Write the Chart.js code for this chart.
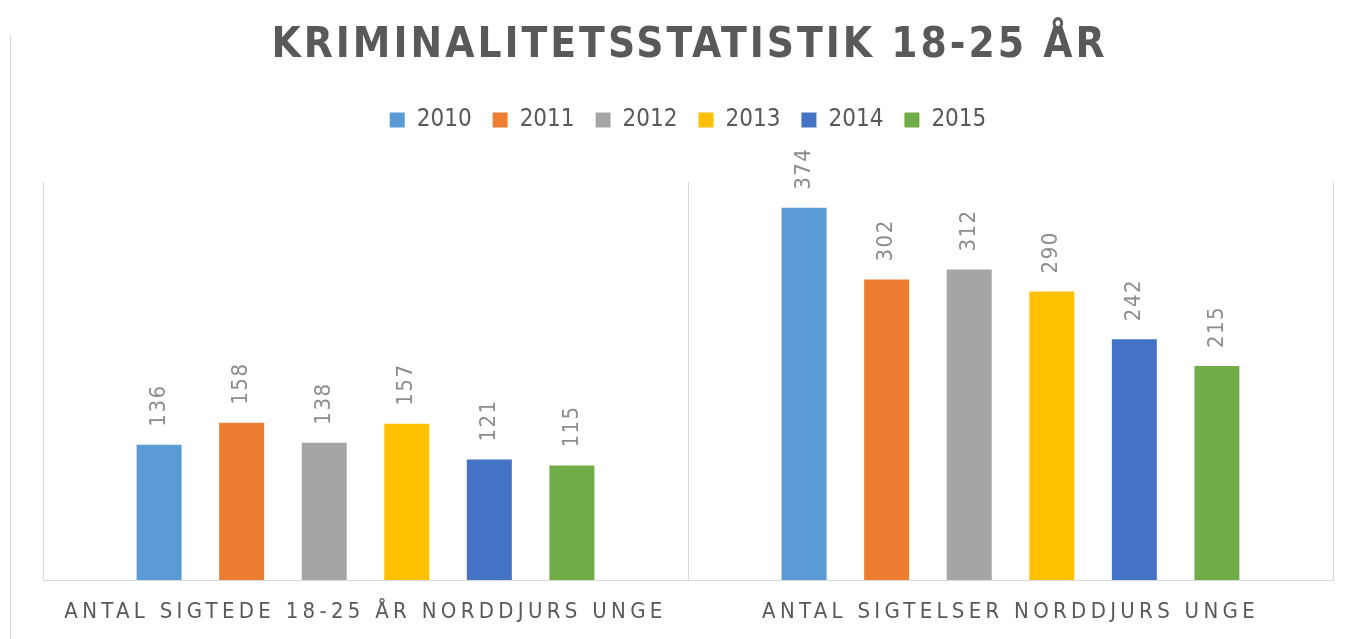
<!DOCTYPE html>
<html>
<head>
<meta charset="utf-8">
<script src="https://cdn.jsdelivr.net/npm/chart.js@4/dist/chart.umd.min.js"></script>
<style>
  html, body { margin: 0; padding: 0; background: #ffffff; }
  #wrap { width: 1357px; height: 639px; position: relative; }
</style>
</head>
<body>
<div id="wrap"><canvas id="c" width="1357" height="639"></canvas></div>
<script>
const chartTitle = 'KRIMINALITETSSTATISTIK 18-25 ÅR';
const categories = ['ANTAL SIGTEDE 18-25 ÅR NORDDJURS UNGE', 'ANTAL SIGTELSER NORDDJURS UNGE'];
const seriesNames = ['2010', '2011', '2012', '2013', '2014', '2015'];
const values2010 = [136, 374];
const values2011 = [158, 302];
const values2012 = [138, 312];
const values2013 = [157, 290];
const values2014 = [121, 242];
const values2015 = [115, 215];
const seriesColors = ['#5B9BD5', '#ED7D31', '#A5A5A5', '#FFC000', '#4472C4', '#70AD47'];
const yMin = 0;
const yMax = 400;

const FONT = '"DejaVu Sans Condensed", "Liberation Sans Narrow", "Liberation Sans", sans-serif';
const allValues = [values2010, values2011, values2012, values2013, values2014, values2015];

const decorPlugin = {
  id: 'decor',
  beforeDraw(chart) {
    chart.ctx.letterSpacing = '0px';
  },
  beforeDatasetsDraw(chart) {
    chart.ctx.letterSpacing = '0px';
  },
  afterDatasetsDraw(chart) {
    const ctx = chart.ctx;
    ctx.save();
    ctx.letterSpacing = '1.5px';
    ctx.font = '22px ' + FONT;
    ctx.fillStyle = '#8c8c8c';
    ctx.textAlign = 'left';
    ctx.textBaseline = 'middle';
    chart.data.datasets.forEach((ds, di) => {
      const meta = chart.getDatasetMeta(di);
      meta.data.forEach((bar, i) => {
        ctx.save();
        ctx.translate(bar.x, bar.y - 18);
        ctx.rotate(-Math.PI / 2);
        ctx.fillText(String(ds.data[i]), 0, 0);
        ctx.restore();
      });
    });
    ctx.restore();
    // x axis tick labels (ticks.z = 1) are drawn next, with spaced letters
    ctx.letterSpacing = '4.3px';
  },
  afterDraw(chart) {
    const ctx = chart.ctx;
    ctx.letterSpacing = '0px';
    // frame line on the left
    ctx.save();
    ctx.strokeStyle = '#d9d9d9';
    ctx.lineWidth = 1;
    ctx.beginPath();
    ctx.moveTo(10.5, 35);
    ctx.lineTo(10.5, 639);
    ctx.stroke();
    ctx.restore();
    // title
    ctx.save();
    const ls = 3;
    ctx.letterSpacing = ls + 'px';
    ctx.font = 'bold 42px ' + FONT;
    ctx.fillStyle = '#595959';
    ctx.textAlign = 'left';
    ctx.textBaseline = 'alphabetic';
    const w = ctx.measureText(chartTitle).width - ls;
    const cx = (chart.chartArea.left + chart.chartArea.right) / 2;
    ctx.fillText(chartTitle, cx - w / 2, 57);
    ctx.restore();
  }
};

new Chart(document.getElementById('c'), {
  type: 'bar',
  data: {
    labels: categories,
    datasets: seriesNames.map((name, i) => ({
      label: name,
      data: allValues[i],
      backgroundColor: seriesColors[i],
      borderWidth: 0,
      categoryPercentage: 0.768,
      barPercentage: 0.545
    }))
  },
  options: {
    responsive: false,
    animation: false,
    devicePixelRatio: 1,
    layout: { padding: { top: 87, left: 43, right: 24, bottom: 0 } },
    plugins: {
      legend: {
        display: true,
        position: 'top',
        labels: {
          boxWidth: 15,
          boxHeight: 15,
          padding: 21,
          color: '#595959',
          font: { family: FONT, size: 24 }
        }
      },
      title: { display: false },
      tooltip: { enabled: false }
    },
    scales: {
      x: {
        type: 'category',
        offset: true,
        grid: { display: true, offset: true, color: '#d9d9d9', lineWidth: 1, drawTicks: false },
        border: { display: true, color: '#d9d9d9', width: 1 },
        ticks: { z: 1, color: '#595959', font: { family: FONT, size: 22 }, padding: 19, maxRotation: 0, autoSkip: false },
        afterFit(scale) { scale.height = 59; }
      },
      xTop: {
        type: 'category',
        position: 'top',
        display: true,
        grid: { display: false },
        border: { display: false },
        ticks: { display: false },
        afterFit(scale) { scale.height = 40; }
      },
      y: {
        type: 'linear',
        min: yMin,
        max: yMax,
        display: false
      }
    }
  },
  plugins: [decorPlugin]
});
</script>
</body>
</html>
